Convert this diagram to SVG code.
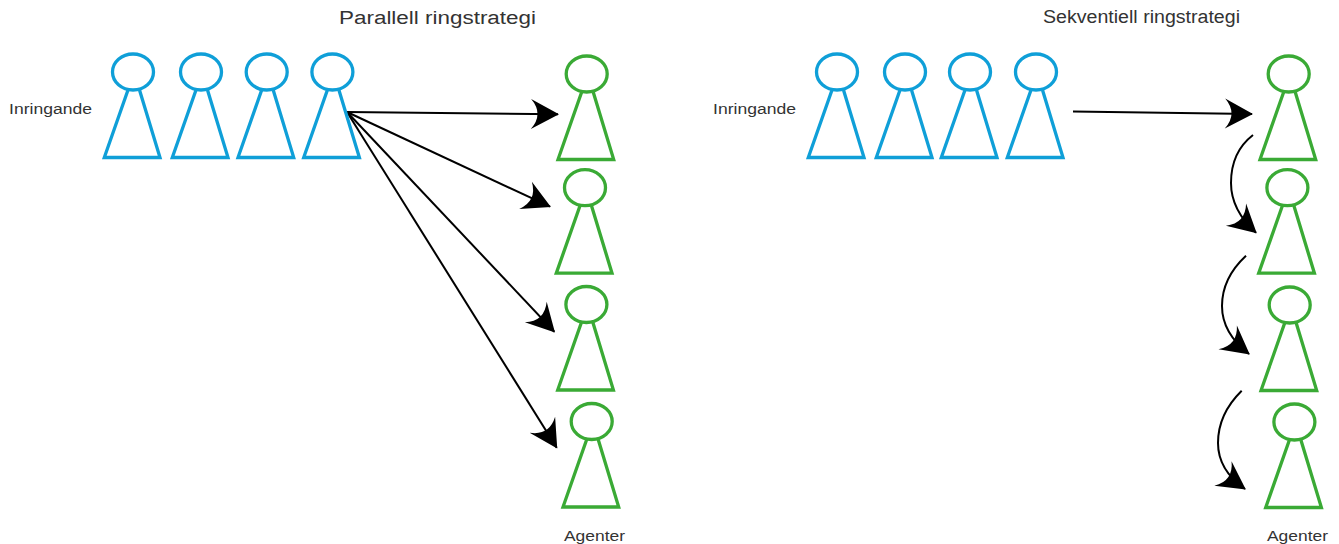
<svg xmlns="http://www.w3.org/2000/svg" width="1339" height="544" viewBox="0 0 1339 544">
<style>
.b,.g{fill:#fff;stroke-width:3.300}
.b{stroke:#0f9fd8}
.g{stroke:#3aaa35}
.c path{fill:none;stroke:#000;stroke-width:2}
text{font-family:"Liberation Sans",Arial,sans-serif;fill:#333}
.t{font-size:18px}
.l{font-size:14px}
</style>
<defs>
<marker id="a" markerUnits="userSpaceOnUse" markerWidth="34" markerHeight="34" refX="28" refY="16" orient="auto" viewBox="0 0 34 34">
<path d="M1,1 L29,16 L1,31 Q14,16 1,1 Z" style="fill:#000;stroke:none"/>
</marker>
<g id="pb"><path d="M128,90 L104.300,157.500 L160,157.500 L139.500,90"/><ellipse cx="133" cy="72" rx="20.500" ry="18"/></g>
</defs>
<rect width="1339" height="544" fill="#fff"/>
<text class="t" x="339" y="24" textLength="197" lengthAdjust="spacingAndGlyphs">Parallell ringstrategi</text>
<text class="t" x="1043" y="23" textLength="197" lengthAdjust="spacingAndGlyphs">Sekventiell ringstrategi</text>
<g id="connectors" class="c">
<path marker-end="url(#a)" d="M347,112 L558,114.300"/>
<path marker-end="url(#a)" d="M347,112 L550,206.700"/>
<path marker-end="url(#a)" d="M347,112 L554.300,331.700"/>
<path marker-end="url(#a)" d="M347,112 L556.700,447.700"/>
<path marker-end="url(#a)" d="M1073,111.500 L1252,114"/>
<path marker-end="url(#a)" d="M1253,135 Q1231,152 1231,183 Q1231,210 1256,232.700"/>
<path marker-end="url(#a)" d="M1246,255.700 Q1222,278 1222,306 Q1222,333 1249,354"/>
<path marker-end="url(#a)" d="M1241.700,390.700 Q1218,414 1218,443 Q1218,470 1245,489"/>
</g>
<g id="caller-p1" class="b"><use href="#pb"/></g>
<g id="caller-p2" class="b"><use href="#pb" x="68"/></g>
<g id="caller-p3" class="b"><use href="#pb" x="133.700"/></g>
<g id="caller-p4" class="b"><use href="#pb" x="199.400"/></g>
<g id="caller-s1" class="b"><use href="#pb" x="704"/></g>
<g id="caller-s2" class="b"><use href="#pb" x="772"/></g>
<g id="caller-s3" class="b"><use href="#pb" x="837"/></g>
<g id="caller-s4" class="b"><use href="#pb" x="903"/></g>
<g id="agent-p1" class="g"><use href="#pb" x="453.700" y="2"/></g>
<g id="agent-p2" class="g"><use href="#pb" x="452" y="115.700"/></g>
<g id="agent-p3" class="g"><use href="#pb" x="453.400" y="232.500"/></g>
<g id="agent-p4" class="g"><use href="#pb" x="458.700" y="349.500"/></g>
<g id="agent-s1" class="g"><use href="#pb" x="1155.700" y="2"/></g>
<g id="agent-s2" class="g"><use href="#pb" x="1154.400" y="115.700"/></g>
<g id="agent-s3" class="g"><use href="#pb" x="1156.700" y="233"/></g>
<g id="agent-s4" class="g"><use href="#pb" x="1161.400" y="350"/></g>
<text class="l" x="9" y="114" textLength="83" lengthAdjust="spacingAndGlyphs">Inringande</text>
<text class="l" x="713" y="114" textLength="83" lengthAdjust="spacingAndGlyphs">Inringande</text>
<text class="l" x="564" y="541" textLength="61" lengthAdjust="spacingAndGlyphs">Agenter</text>
<text class="l" x="1267" y="541" textLength="61" lengthAdjust="spacingAndGlyphs">Agenter</text>
</svg>
